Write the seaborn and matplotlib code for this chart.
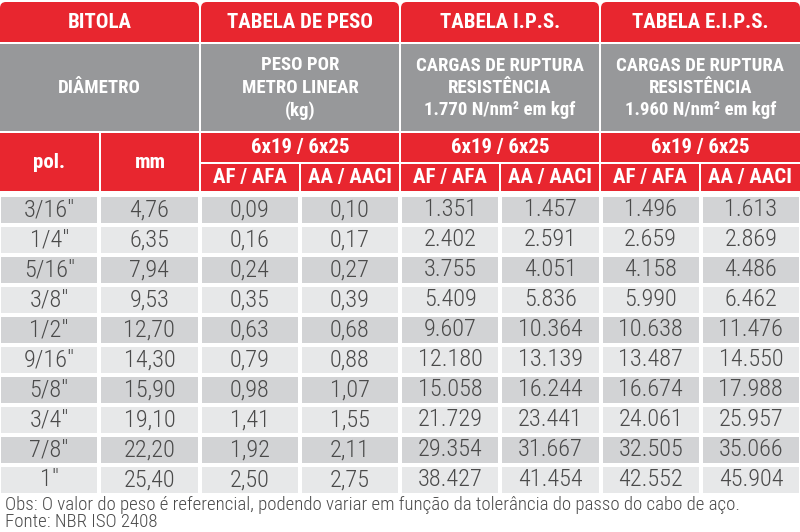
import numpy as np
import pandas as pd
import seaborn as sns
import matplotlib.pyplot as plt
from matplotlib.colors import ListedColormap
from matplotlib.patches import Rectangle, FancyBboxPatch

# dados da tabela
pol = ['3/16"', '1/4"', '5/16"', '3/8"', '1/2"', '9/16"', '5/8"', '3/4"', '7/8"', '1"']
mm = [4.76, 6.35, 7.94, 9.53, 12.70, 14.30, 15.90, 19.10, 22.20, 25.40]
peso_af = [0.09, 0.16, 0.24, 0.35, 0.63, 0.79, 0.98, 1.41, 1.92, 2.50]
peso_aa = [0.10, 0.17, 0.27, 0.39, 0.68, 0.88, 1.07, 1.55, 2.11, 2.75]
ips_af = [1351, 2402, 3755, 5409, 9607, 12180, 15058, 21729, 29354, 38427]
ips_aa = [1457, 2591, 4051, 5836, 10364, 13139, 16244, 23441, 31667, 41454]
eips_af = [1496, 2659, 4158, 5990, 10638, 13487, 16674, 24061, 32505, 42552]
eips_aa = [1613, 2869, 4486, 6462, 11476, 14550, 17988, 25957, 35066, 45904]

grupos = ['BITOLA', 'TABELA DE PESO', 'TABELA I.P.S.', 'TABELA E.I.P.S.']
subtitulos = ['DIÂMETRO', 'PESO POR\nMETRO LINEAR\n(kg)',
              'CARGAS DE RUPTURA\nRESISTÊNCIA\n1.770 N/nm² em kgf',
              'CARGAS DE RUPTURA\nRESISTÊNCIA\n1.960 N/nm² em kgf']
construcao = '6x19 / 6x25'
tipos = ['AF / AFA', 'AA / AACI']
obs = 'Obs: O valor do peso é referencial, podendo variar em função da tolerância do passo do cabo de aço.'
fonte = 'Fonte: NBR ISO 2408'

VERMELHO = '#e8262f'
CINZA = '#97989a'
ESCURO = '#d2d3d5'
CLARO = '#e7e8e9'
TEXTO = '#4a4a4a'

def dec(v):
    return f'{v:.2f}'.replace('.', ',')

def mil(v):
    return f'{v:,}'.replace(',', '.')

tabela = pd.DataFrame({
    'pol': pol,
    'mm': [dec(v) for v in mm],
    'peso_af': [dec(v) for v in peso_af],
    'peso_aa': [dec(v) for v in peso_aa],
    'ips_af': [mil(v) for v in ips_af],
    'ips_aa': [mil(v) for v in ips_aa],
    'eips_af': [mil(v) for v in eips_af],
    'eips_aa': [mil(v) for v in eips_aa],
})

sns.set_theme(style='white')
plt.rcParams['font.family'] = ['Roboto Condensed', 'DejaVu Sans']

W, H = 800, 532
fig = plt.figure(figsize=(8, 5.32), dpi=100)
ax = fig.add_axes([0, 0, 1, 1])
ax.set_xlim(0, W)
ax.set_ylim(H, 0)
ax.axis('off')

g = 2  # espaço branco entre células
bold = dict(color='white', fontweight='bold', ha='center', va='center')

# linha 1: grupos com cantos arredondados no topo
for i, nome in enumerate(grupos):
    x0 = i * 200 + (g / 2 if i > 0 else 0)
    x1 = (i + 1) * 200 - (g / 2 if i < 3 else 0)
    ax.add_patch(FancyBboxPatch((x0, 2), x1 - x0, 40, boxstyle='round,pad=0,rounding_size=6',
                                fc=VERMELHO, ec='none'))
    ax.add_patch(Rectangle((x0, 22), x1 - x0, 20, fc=VERMELHO, ec='none'))
    ax.text((x0 + x1) / 2, 23, nome, fontsize=15, **bold)

# linha 2: subtítulos cinza
for i, sub in enumerate(subtitulos):
    x0 = i * 200 + (g / 2 if i > 0 else 0)
    x1 = (i + 1) * 200 - (g / 2 if i < 3 else 0)
    ax.add_patch(Rectangle((x0, 44), x1 - x0, 87, fc=CINZA, ec='none'))
    ax.text((x0 + x1) / 2, 88, sub, fontsize=13.5, linespacing=1.3, **bold)

# linha 3/4: pol., mm, construção e tipos
for j, rot in enumerate(['pol.', 'mm']):
    x0 = j * 100 + (g / 2 if j > 0 else 0)
    x1 = (j + 1) * 100 - g / 2
    ax.add_patch(Rectangle((x0, 133), x1 - x0, 58, fc=VERMELHO, ec='none'))
    ax.text((x0 + x1) / 2, 163, rot, fontsize=15, **bold)

for i in range(1, 4):
    x0 = i * 200 + g / 2
    x1 = (i + 1) * 200 - (g / 2 if i < 3 else 0)
    ax.add_patch(Rectangle((x0, 133), x1 - x0, 29, fc=VERMELHO, ec='none'))
    ax.text((x0 + x1) / 2, 148, construcao, fontsize=15, **bold)
    for k, t in enumerate(tipos):
        c0 = i * 200 + k * 100 + g / 2
        c1 = i * 200 + (k + 1) * 100 - (g / 2 if (i < 3 or k == 0) else 0)
        ax.add_patch(Rectangle((c0, 164), c1 - c0, 27, fc=VERMELHO, ec='none'))
        ax.text((c0 + c1) / 2, 178, t, fontsize=15, **bold)

# corpo da tabela com heatmap (listras alternadas)
listras = np.tile((np.arange(len(pol)) % 2)[:, None], (1, tabela.shape[1]))
corpo = fig.add_axes([-1 / W, 37 / H, 802 / W, 300 / H])
sns.heatmap(listras, ax=corpo, cmap=ListedColormap([ESCURO, CLARO]), cbar=False,
            annot=tabela.values, fmt='', linewidths=1.5, linecolor='white',
            annot_kws=dict(fontsize=17.5, color=TEXTO, fontweight='light'),
            xticklabels=False, yticklabels=False)
corpo.axis('off')

# rodapé
ax.text(5, 505, obs, fontsize=13.6, color=TEXTO, ha='left', va='center', fontweight='light')
ax.text(5, 522, fonte, fontsize=13.6, color=TEXTO, ha='left', va='center', fontweight='light')

fig.savefig('out.png', dpi=100, facecolor='white')
